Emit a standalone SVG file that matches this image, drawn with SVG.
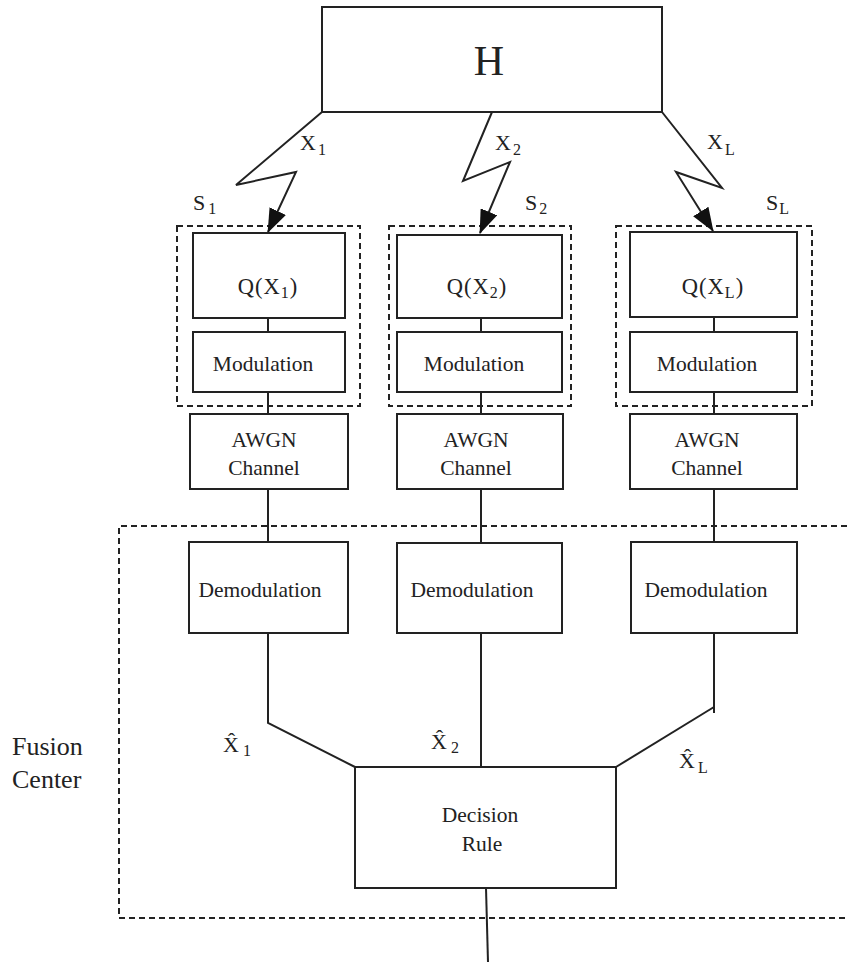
<svg xmlns="http://www.w3.org/2000/svg" width="847" height="962" viewBox="0 0 847 962">
<style>
.box{fill:#fff;stroke:#222;stroke-width:2}
.ln{fill:none;stroke:#222;stroke-width:2}
.dash{fill:none;stroke:#222;stroke-width:2;stroke-dasharray:6 4}
text{font-family:"Liberation Serif","Times New Roman",serif;fill:#222}
.t{font-size:21.5px;text-anchor:middle}
.q{font-size:22.5px;text-anchor:middle;letter-spacing:1px}
.lab{font-size:22px}
.sub{font-size:16px}
</style>
<defs>
<marker id="ah" markerUnits="userSpaceOnUse" markerWidth="24" markerHeight="18" viewBox="0 0 24 18" refX="23" refY="9" orient="auto">
<path d="M0,0 L24,9 L0,18 z" fill="#111"/>
</marker>
</defs>
<rect width="847" height="962" fill="#fff"/>

<g id="groups">
<rect class="dash" x="177" y="226" width="183" height="180"/>
<rect class="dash" x="389" y="226" width="182" height="180"/>
<rect class="dash" x="616" y="226" width="196" height="180"/>
<path class="dash" d="M847,526 H119 V918 H847"/>
</g>

<g id="connectors">
<polyline class="ln" points="322,112 236,185 296,172 268,232" marker-end="url(#ah)"/>
<polyline class="ln" points="492,112 463,181 510,162 480,233" marker-end="url(#ah)"/>
<polyline class="ln" points="662,112 722,188 676,172 713,231" marker-end="url(#ah)"/>
<path class="ln" d="M268,318V332 M268,392V414 M268,489V542"/>
<path class="ln" d="M481,318V332 M481,392V414 M481,489V543"/>
<path class="ln" d="M714,317V332 M714,392V414 M714,489V542"/>
<polyline class="ln" points="268,633 268,723 355,767"/>
<line class="ln" x1="481" y1="633" x2="481" y2="767"/>
<polyline class="ln" points="714,633 714,713"/>
<line class="ln" x1="714" y1="707" x2="616" y2="767"/>
<line class="ln" x1="486" y1="888" x2="488" y2="962"/>
</g>

<g id="H">
<rect class="box" x="322" y="7" width="340" height="105"/>
<text x="489" y="75" style="font-size:42px;text-anchor:middle">H</text>
</g>

<g id="labels">
<text class="lab" x="300" y="150">X<tspan class="sub" dx="2" dy="5">1</tspan></text>
<text class="lab" x="495" y="150">X<tspan class="sub" dx="2" dy="5">2</tspan></text>
<text class="lab" x="707" y="149">X<tspan class="sub" dx="2" dy="6">L</tspan></text>
<text class="lab" x="193" y="210">S<tspan class="sub" dx="3" dy="4">1</tspan></text>
<text class="lab" x="525" y="210">S<tspan class="sub" dx="2" dy="4">2</tspan></text>
<text class="lab" x="766" y="210">S<tspan class="sub" dx="1" dy="4">L</tspan></text>
<text class="lab" x="223" y="752">X&#x302;<tspan class="sub" dx="4" dy="4">1</tspan></text>
<text class="lab" x="431" y="749">X&#x302;<tspan class="sub" dx="4" dy="4">2</tspan></text>
<text class="lab" x="679" y="768">X&#x302;<tspan class="sub" dx="3" dy="5">L</tspan></text>
<text style="font-size:26px" x="12" y="755">Fusion</text>
<text style="font-size:26px" x="12" y="788">Center</text>
</g>

<g id="q1"><rect class="box" x="193" y="233" width="152" height="85"/>
<text class="q" x="268" y="294">Q(X<tspan class="sub" dy="4">1</tspan><tspan dy="-4">)</tspan></text></g>
<g id="q2"><rect class="box" x="397" y="235" width="165" height="83"/>
<text class="q" x="477" y="294">Q(X<tspan class="sub" dy="4">2</tspan><tspan dy="-4">)</tspan></text></g>
<g id="qL"><rect class="box" x="630" y="232" width="167" height="85"/>
<text class="q" x="713" y="294">Q(X<tspan class="sub" dy="4">L</tspan><tspan dy="-4">)</tspan></text></g>

<g id="mod1"><rect class="box" x="193" y="332" width="152" height="60"/>
<text class="t" x="263" y="371">Modulation</text></g>
<g id="mod2"><rect class="box" x="397" y="332" width="165" height="60"/>
<text class="t" x="474" y="371">Modulation</text></g>
<g id="modL"><rect class="box" x="630" y="332" width="167" height="60"/>
<text class="t" x="707" y="371">Modulation</text></g>

<g id="awgn1"><rect class="box" x="190" y="414" width="158" height="75"/>
<text class="t" x="264" y="447">AWGN</text><text class="t" x="264" y="475">Channel</text></g>
<g id="awgn2"><rect class="box" x="397" y="414" width="166" height="75"/>
<text class="t" x="476" y="447">AWGN</text><text class="t" x="476" y="475">Channel</text></g>
<g id="awgnL"><rect class="box" x="630" y="414" width="167" height="75"/>
<text class="t" x="707" y="447">AWGN</text><text class="t" x="707" y="475">Channel</text></g>

<g id="demod1"><rect class="box" x="189" y="542" width="159" height="91"/>
<text class="t" x="260" y="597">Demodulation</text></g>
<g id="demod2"><rect class="box" x="397" y="543" width="165" height="90"/>
<text class="t" x="472" y="597">Demodulation</text></g>
<g id="demodL"><rect class="box" x="631" y="542" width="166" height="91"/>
<text class="t" x="706" y="597">Demodulation</text></g>

<g id="decision"><rect class="box" x="355" y="767" width="261" height="121"/>
<text class="t" x="480" y="822">Decision</text><text class="t" x="482" y="851">Rule</text></g>
</svg>
